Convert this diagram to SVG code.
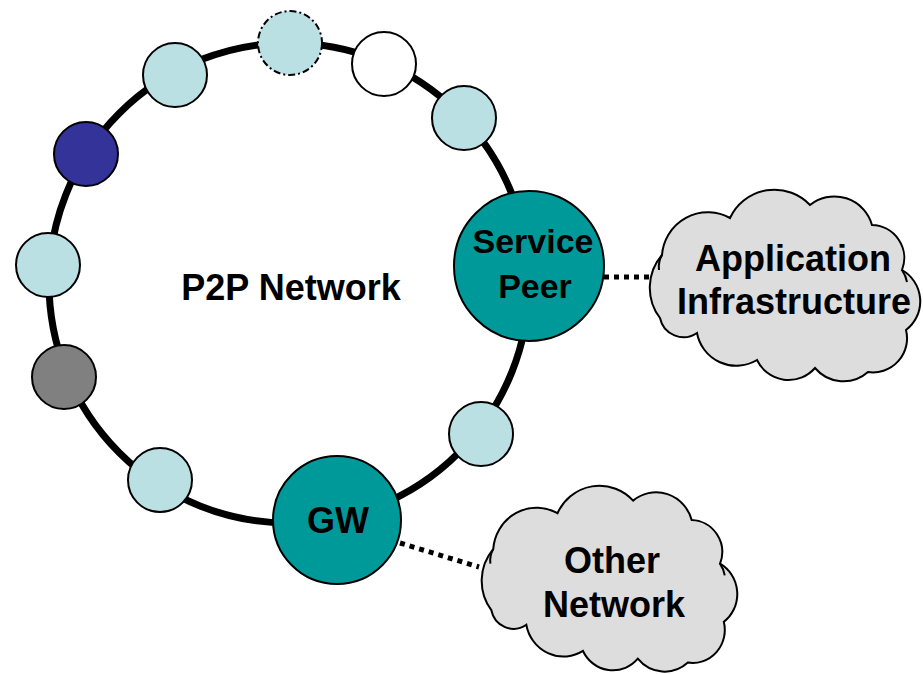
<svg xmlns="http://www.w3.org/2000/svg" xmlns:xlink="http://www.w3.org/1999/xlink" width="923" height="674" viewBox="0 0 923 674">
  <style>
    .peer { stroke: #000; stroke-width: 2; }
    .light { fill: #BBE0E3; }
    .teal { fill: #009999; }
    .cloud { fill: #DDDDDD; stroke: #000; stroke-width: 2; vector-effect: non-scaling-stroke; }
    .curl { fill: none; stroke: #000; stroke-width: 2; vector-effect: non-scaling-stroke; }
    .lbl { font-family: "Liberation Sans", Arial, sans-serif; font-weight: bold; font-size: 36px; fill: #000; text-anchor: middle; }
    .dot { stroke: #000; stroke-width: 5; stroke-dasharray: 5 5; fill: none; }
  </style>
  <defs>
    <g id="cloudShape">
      <path class="cloud" d="M12,126 A50,50 0 0 1 14,63 A46,46 0 0 1 82,26 A49,49 0 0 1 162,13 A39,39 0 0 1 224,33 A33,33 0 0 1 254,78 A36,36 0 0 1 258,138 A34,34 0 0 1 220,180 A37,37 0 0 1 167,176 A35,35 0 0 1 109,168 A40,40 0 0 1 49,141 A24,24 0 0 1 12,126 Z"/>
      <path class="curl" d="M14,63 Q10,70 11,78"/>
      <path class="curl" d="M254,78 Q258,84 259,90"/>
    </g>
  </defs>
  <rect width="923" height="674" fill="#fff"/>

  <g id="ring">
    <circle cx="289" cy="283" r="240" fill="none" stroke="#000" stroke-width="7"/>
  </g>

  <g id="connectors">
    <line class="dot" x1="604" y1="277" x2="650" y2="277"/>
    <line class="dot" x1="400" y1="543" x2="479" y2="567"/>
  </g>

  <g id="label-p2p">
    <text class="lbl" x="291" y="300">P2P Network</text>
  </g>

  <g id="peer-1"><circle class="peer light" cx="175" cy="75" r="32"/></g>
  <g id="peer-2"><circle class="light" cx="290" cy="43" r="32" stroke="#000" stroke-width="2" stroke-dasharray="7 3 2 3"/></g>
  <g id="peer-3"><circle class="peer" cx="384" cy="64" r="32" fill="#fff"/></g>
  <g id="peer-4"><circle class="peer light" cx="464" cy="118" r="32"/></g>
  <g id="peer-5"><circle class="peer" cx="86" cy="154" r="32" fill="#333399"/></g>
  <g id="peer-6"><circle class="peer light" cx="48" cy="265" r="32"/></g>
  <g id="peer-7"><circle class="peer" cx="64" cy="377" r="32" fill="#808080"/></g>
  <g id="peer-8"><circle class="peer light" cx="160" cy="480" r="32"/></g>
  <g id="peer-9"><circle class="peer light" cx="481" cy="434" r="32"/></g>

  <g id="service-peer">
    <circle class="peer teal" cx="529" cy="266" r="75"/>
    <text class="lbl" x="533" y="253" font-size="34" style="font-size:34px">Service</text>
    <text class="lbl" x="535" y="298" style="font-size:34px">Peer</text>
  </g>

  <g id="gw">
    <circle class="peer teal" cx="337" cy="520" r="64"/>
    <text class="lbl" x="338" y="533">GW</text>
  </g>

  <g id="app-infra">
    <use xlink:href="#cloudShape" transform="translate(648,192)"/>
    <text class="lbl" x="793" y="271">Application</text>
    <text class="lbl" x="794" y="314">Infrastructure</text>
  </g>

  <g id="other-network">
    <use xlink:href="#cloudShape" transform="translate(480,488) scale(0.945,0.97)"/>
    <text class="lbl" x="612" y="573">Other</text>
    <text class="lbl" x="614" y="617">Network</text>
  </g>
</svg>
